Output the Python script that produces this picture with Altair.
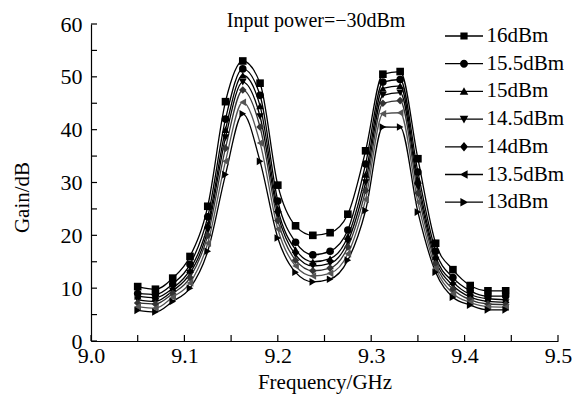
import altair as alt
import pandas as pd

FONT = "Liberation Serif"

series = ["16dBm", "15.5dBm", "15dBm", "14.5dBm", "14dBm", "13.5dBm", "13dBm"]
freq = [9.05, 9.069, 9.0875, 9.106, 9.125, 9.144, 9.1625, 9.181, 9.2, 9.219, 9.2375,
        9.256, 9.275, 9.294, 9.3125, 9.331, 9.35, 9.369, 9.3875, 9.406, 9.425, 9.444]

g160 = [10.3, 9.8, 11.9, 16.0, 25.5, 45.3, 53.0, 48.8, 29.5, 21.8, 20.0,
        20.5, 24.0, 36.0, 50.5, 51.0, 34.5, 18.5, 13.5, 10.5, 9.5, 9.5]
g155 = [9.0, 8.8, 10.8, 14.5, 23.5, 42.0, 51.5, 46.5, 26.5, 18.7, 16.3,
        17.0, 21.0, 33.5, 49.0, 49.5, 32.0, 17.0, 12.0, 9.5, 8.5, 8.5]
g150 = [8.5, 8.2, 10.0, 13.5, 22.0, 40.0, 50.3, 44.5, 25.0, 17.3, 15.0,
        15.6, 19.8, 31.5, 47.8, 48.3, 30.5, 16.0, 11.2, 8.8, 8.0, 7.8]
g145 = [7.8, 7.5, 9.5, 12.8, 21.0, 38.5, 49.0, 42.5, 24.0, 16.3, 14.2,
        14.7, 18.8, 30.0, 46.5, 47.0, 29.3, 15.3, 10.5, 8.3, 7.5, 7.3]
g140 = [7.2, 7.0, 9.0, 12.0, 20.0, 36.5, 47.5, 40.5, 22.8, 15.3, 13.3,
        13.8, 17.8, 28.5, 45.0, 45.5, 28.0, 14.6, 9.8, 7.8, 7.0, 6.9]
g135 = [6.5, 6.2, 8.3, 11.0, 18.5, 34.0, 45.2, 37.5, 21.2, 14.2, 12.3,
        12.8, 16.5, 26.8, 43.0, 43.2, 26.3, 13.8, 9.0, 7.3, 6.5, 6.4]
g130 = [5.8, 5.5, 7.5, 10.0, 17.0, 31.5, 43.0, 34.0, 19.5, 13.0, 11.2,
        11.7, 15.3, 24.7, 40.5, 40.5, 24.4, 13.0, 8.3, 6.8, 5.9, 5.9]

x_ticks = [9.0, 9.1, 9.2, 9.3, 9.4, 9.5]
x_minor = [9.0, 9.05, 9.1, 9.15, 9.2, 9.25, 9.3, 9.35, 9.4, 9.45, 9.5]
y_ticks = [0, 10, 20, 30, 40, 50, 60]
y_minor = [0, 5, 10, 15, 20, 25, 30, 35, 40, 45, 50, 55, 60]

annot_text = ["Input power=\u221230dBm"]
annot_freq = [9.241]
annot_gain = [59.5]

shapes = ["square", "circle", "triangle-up", "triangle-down", "diamond",
          "triangle-left", "triangle-right"]
colors = ["black", "black", "black", "black", "#333333", "#555555", "black"]
# legend symbols: a thin filled bar (the line) plus the marker
BAR = "M-2,-0.07H2V0.07H-2Z"
legend_paths = [
    BAR + "M-0.38,-0.38H0.38V0.38H-0.38Z",
    BAR + "M0.42,0A0.42,0.42,0,1,1,-0.42,0A0.42,0.42,0,1,1,0.42,0Z",
    BAR + "M0,-0.45L0.45,0.35L-0.45,0.35Z",
    BAR + "M0,0.45L-0.45,-0.35L0.45,-0.35Z",
    BAR + "M0,-0.5L0.42,0L0,0.5L-0.42,0Z",
    BAR + "M-0.45,0L0.38,-0.45L0.38,0.45Z",
    BAR + "M0.45,0L-0.38,0.45L-0.38,-0.45Z",
]

rows = []
for name, vals in zip(series, [g160, g155, g150, g145, g140, g135, g130]):
    for f, v in zip(freq, vals):
        rows.append({"series": name, "freq": f, "gain": v})
df = pd.DataFrame(rows)
annot = pd.DataFrame({"text": annot_text, "freq": annot_freq, "gain": annot_gain})
xtick_df = pd.DataFrame({"freq": x_minor})
ytick_df = pd.DataFrame({"gain": y_minor})

xscale = alt.Scale(domain=[9.0, 9.5], nice=False, zero=False)
yscale = alt.Scale(domain=[0, 60], nice=False)
cscale = alt.Scale(domain=series, range=colors)

x_main = alt.X("freq:Q", scale=xscale, axis=alt.Axis(
    values=x_ticks, format=".1f", title="Frequency/GHz", ticks=False, tickSize=0,
    labelPadding=4, titlePadding=5, domainColor="black", domainWidth=1.2,
    labelFont=FONT, labelFontSize=22, labelColor="black", labelFlush=False,
    labelOverlap=False, titleFont=FONT, titleFontSize=21, titleFontWeight="normal",
    titleColor="black", grid=False))
y_main = alt.Y("gain:Q", scale=yscale, axis=alt.Axis(
    values=y_ticks, title="Gain/dB", ticks=False, tickSize=0, labelPadding=9,
    domainColor="black", domainWidth=1.2, labelFont=FONT, labelFontSize=22,
    labelColor="black", labelFlush=False, labelOverlap=False, titleFont=FONT,
    titleFontSize=21, titleFontWeight="normal", titleColor="black",
    titleX=-69, titleY=173, titleAngle=270, titleAlign="center",
    titleBaseline="middle", grid=False))

x_none = alt.X("freq:Q", scale=xscale, axis=None)
y_none = alt.Y("gain:Q", scale=yscale, axis=None)

lines = alt.Chart(df).mark_line(strokeWidth=1.3, interpolate="monotone").encode(
    x=x_main, y=y_main,
    color=alt.Color("series:N", scale=cscale, legend=None),
    detail="series:N",
)

points = alt.Chart(df).mark_point(filled=True, size=58, opacity=1).encode(
    x=x_none, y=y_none,
    color=alt.Color("series:N", scale=cscale, legend=None),
    shape=alt.Shape("series:N", scale=alt.Scale(domain=series, range=shapes), legend=None),
)

# inward tick marks at the tick values
xticks_layer = alt.Chart(xtick_df).mark_rule(color="black", strokeWidth=1.2).encode(
    x=x_none, y=alt.value(317), y2=alt.value(311))
yticks_layer = alt.Chart(ytick_df).mark_rule(color="black", strokeWidth=1.2).encode(
    y=y_none, x=alt.value(0), x2=alt.value(6))

legend_layer = alt.Chart(df).mark_point(
    filled=True, color="black", size=361
).encode(
    x=x_none, y=y_none,
    shape=alt.Shape("series:N", scale=alt.Scale(domain=series, range=legend_paths),
                    legend=alt.Legend(
                        orient="none", legendX=362.5, legendY=1.5, title=None,
                        padding=0, labelFont=FONT, labelFontSize=21,
                        labelColor="black", symbolSize=361,
                        symbolFillColor="black", symbolOpacity=1,
                        labelOffset=12, symbolOffset=0, rowPadding=5.7)),
).transform_filter("false")

text = alt.Chart(annot).mark_text(font=FONT, fontSize=20, color="black",
                                  align="center", baseline="alphabetic").encode(
    x=x_none, y=y_none, text="text:N",
)

chart = alt.layer(lines, points, xticks_layer, yticks_layer, legend_layer, text).resolve_scale(
    shape="independent"
).resolve_axis(
    x="independent", y="independent"
).properties(
    width=467, height=317, autosize="none",
    padding={"left": 91, "top": 24, "right": 15, "bottom": 62},
).configure_view(stroke=None).configure_axis(
    labelFont=FONT, titleFont=FONT
).configure_legend(labelFont=FONT).configure_text(font=FONT)

chart.save("out.html", embed_options={"renderer": "svg", "actions": False})
